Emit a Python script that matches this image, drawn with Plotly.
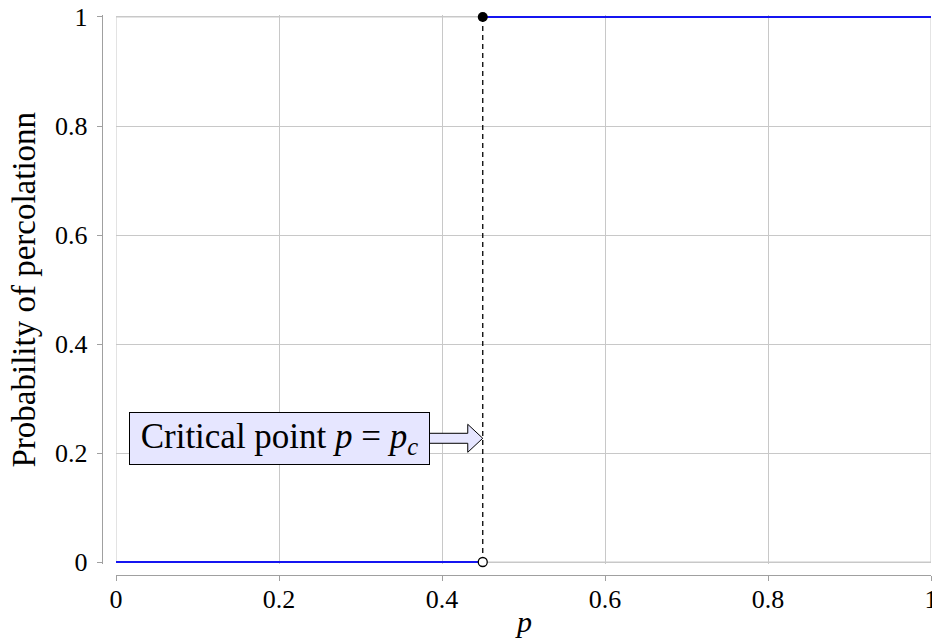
import plotly.graph_objects as go

# ---------------- data ----------------
p_c = 0.45
x_below = [0.0, p_c]
y_below = [0.0, 0.0]
x_above = [p_c, 1.0]
y_above = [1.0, 1.0]
x_critical = [p_c, p_c]
y_critical = [0.0, 1.0]
tick_vals = [0, 0.2, 0.4, 0.6, 0.8, 1]
tick_text = ["0", "0.2", "0.4", "0.6", "0.8", "1"]
x_title = "<i>p</i>"
y_title = "Probability of percolationn"
note_text = "Critical point <i>p</i> = <i>p</i><sub><i>c</i></sub>"
note_x = 0.2
note_y = 0.227

# ---------------- geometry ----------------
W, H = 932, 638
left_px, right_px, top_px, bottom_px = 116, 931, 17, 562
ypad = 0.003
span_y = bottom_px - top_px
dom_bot = bottom_px + ypad * span_y
dom_top = top_px - ypad * span_y
yaxis_line_px = 101.7
xaxis_line_px = 575

FONT = "Liberation Serif"
BLUE = "#1515f0"
GRID = "#c8c8c8"
AXIS = "#a0a0a0"

fig = go.Figure()
fig.add_trace(go.Scatter(x=x_below, y=y_below, mode="lines",
                         line=dict(color=BLUE, width=2), hoverinfo="skip", showlegend=False))
fig.add_trace(go.Scatter(x=x_above, y=y_above, mode="lines",
                         line=dict(color=BLUE, width=2), hoverinfo="skip", showlegend=False))
fig.add_trace(go.Scatter(x=x_critical, y=y_critical, mode="lines",
                         line=dict(color="black", width=1.3, dash="5px,4px"),
                         hoverinfo="skip", showlegend=False))
fig.add_trace(go.Scatter(x=[x_critical[1]], y=[y_critical[1]], mode="markers",
                         marker=dict(color="black", size=10, line=dict(width=0)),
                         cliponaxis=False, hoverinfo="skip", showlegend=False))
fig.add_trace(go.Scatter(x=[x_critical[0]], y=[y_critical[0]], mode="markers",
                         marker=dict(color="white", size=9, line=dict(color="black", width=1.3)),
                         cliponaxis=False, hoverinfo="skip", showlegend=False))

# frame box (grid lines at the range ends)
fig.add_shape(type="rect", xref="x", yref="y", x0=0, x1=1, y0=0, y1=1,
              line=dict(color=GRID, width=1), layer="below")

# block arrow from the note box to the critical line
px_x = 1.0 / (right_px - left_px)
px_y = 1.0 / span_y
box_right = note_x + 150.5 * px_x
head_base = p_c - 15 * px_x
sh = 5 * px_y
hh = 14 * px_y
path = (f"M {box_right},{note_y + sh} L {head_base},{note_y + sh} L {head_base},{note_y + hh} "
        f"L {p_c},{note_y} L {head_base},{note_y - hh} L {head_base},{note_y - sh} "
        f"L {box_right},{note_y - sh} Z")
fig.add_shape(type="path", xref="x", yref="y", path=path,
              fillcolor="#e6e6ff", line=dict(color="black", width=1), layer="above")

fig.add_annotation(x=note_x, y=note_y, xref="x", yref="y", text=note_text,
                   showarrow=False, bgcolor="#e6e6ff", bordercolor="black", borderwidth=1,
                   borderpad=0, width=299, height=51, align="center", valign="middle",
                   font=dict(family=FONT, size=35, color="black"))

fig.add_annotation(x=(left_px + right_px) / 2 / W, y=1 - 621 / H, xref="paper", yref="paper",
                   xanchor="center", yanchor="middle",
                   text=x_title, showarrow=False, font=dict(family=FONT, size=30, color="black"))
fig.add_annotation(x=23 / W, y=1 - (top_px + bottom_px) / 2 / H, xref="paper", yref="paper",
                   xanchor="center", yanchor="middle",
                   text=y_title, textangle=-90, showarrow=False,
                   font=dict(family=FONT, size=33, color="black"))

fig.update_layout(
    template="none",
    width=W, height=H,
    margin=dict(l=0, r=0, t=0, b=0, pad=0, autoexpand=False),
    paper_bgcolor="white", plot_bgcolor="white",
    xaxis=dict(domain=[left_px / W, right_px / W], range=[0, 1],
               anchor="free", position=1 - xaxis_line_px / H, automargin=False,
               tickvals=tick_vals, ticktext=tick_text, ticklabeloverflow="allow",
               ticklabelstandoff=-4,
               showgrid=True, gridcolor=GRID, gridwidth=1, zeroline=False,
               showline=True, linecolor=AXIS, linewidth=1,
               ticks="outside", ticklen=5, tickcolor=AXIS, tickwidth=1,
               tickfont=dict(family=FONT, size=26, color="black"),
               fixedrange=True),
    yaxis=dict(domain=[1 - dom_bot / H, 1 - dom_top / H], range=[-ypad, 1 + ypad],
               anchor="free", position=yaxis_line_px / W, automargin=False,
               tickvals=tick_vals, ticktext=tick_text, ticklabeloverflow="allow",
               showgrid=True, gridcolor=GRID, gridwidth=1, zeroline=False,
               showline=True, linecolor=AXIS, linewidth=1,
               ticks="outside", ticklen=5, tickcolor=AXIS, tickwidth=1,
               ticklabelstandoff=4,
               tickfont=dict(family=FONT, size=26, color="black"),
               fixedrange=True),
)

fig.write_html("out.html")
